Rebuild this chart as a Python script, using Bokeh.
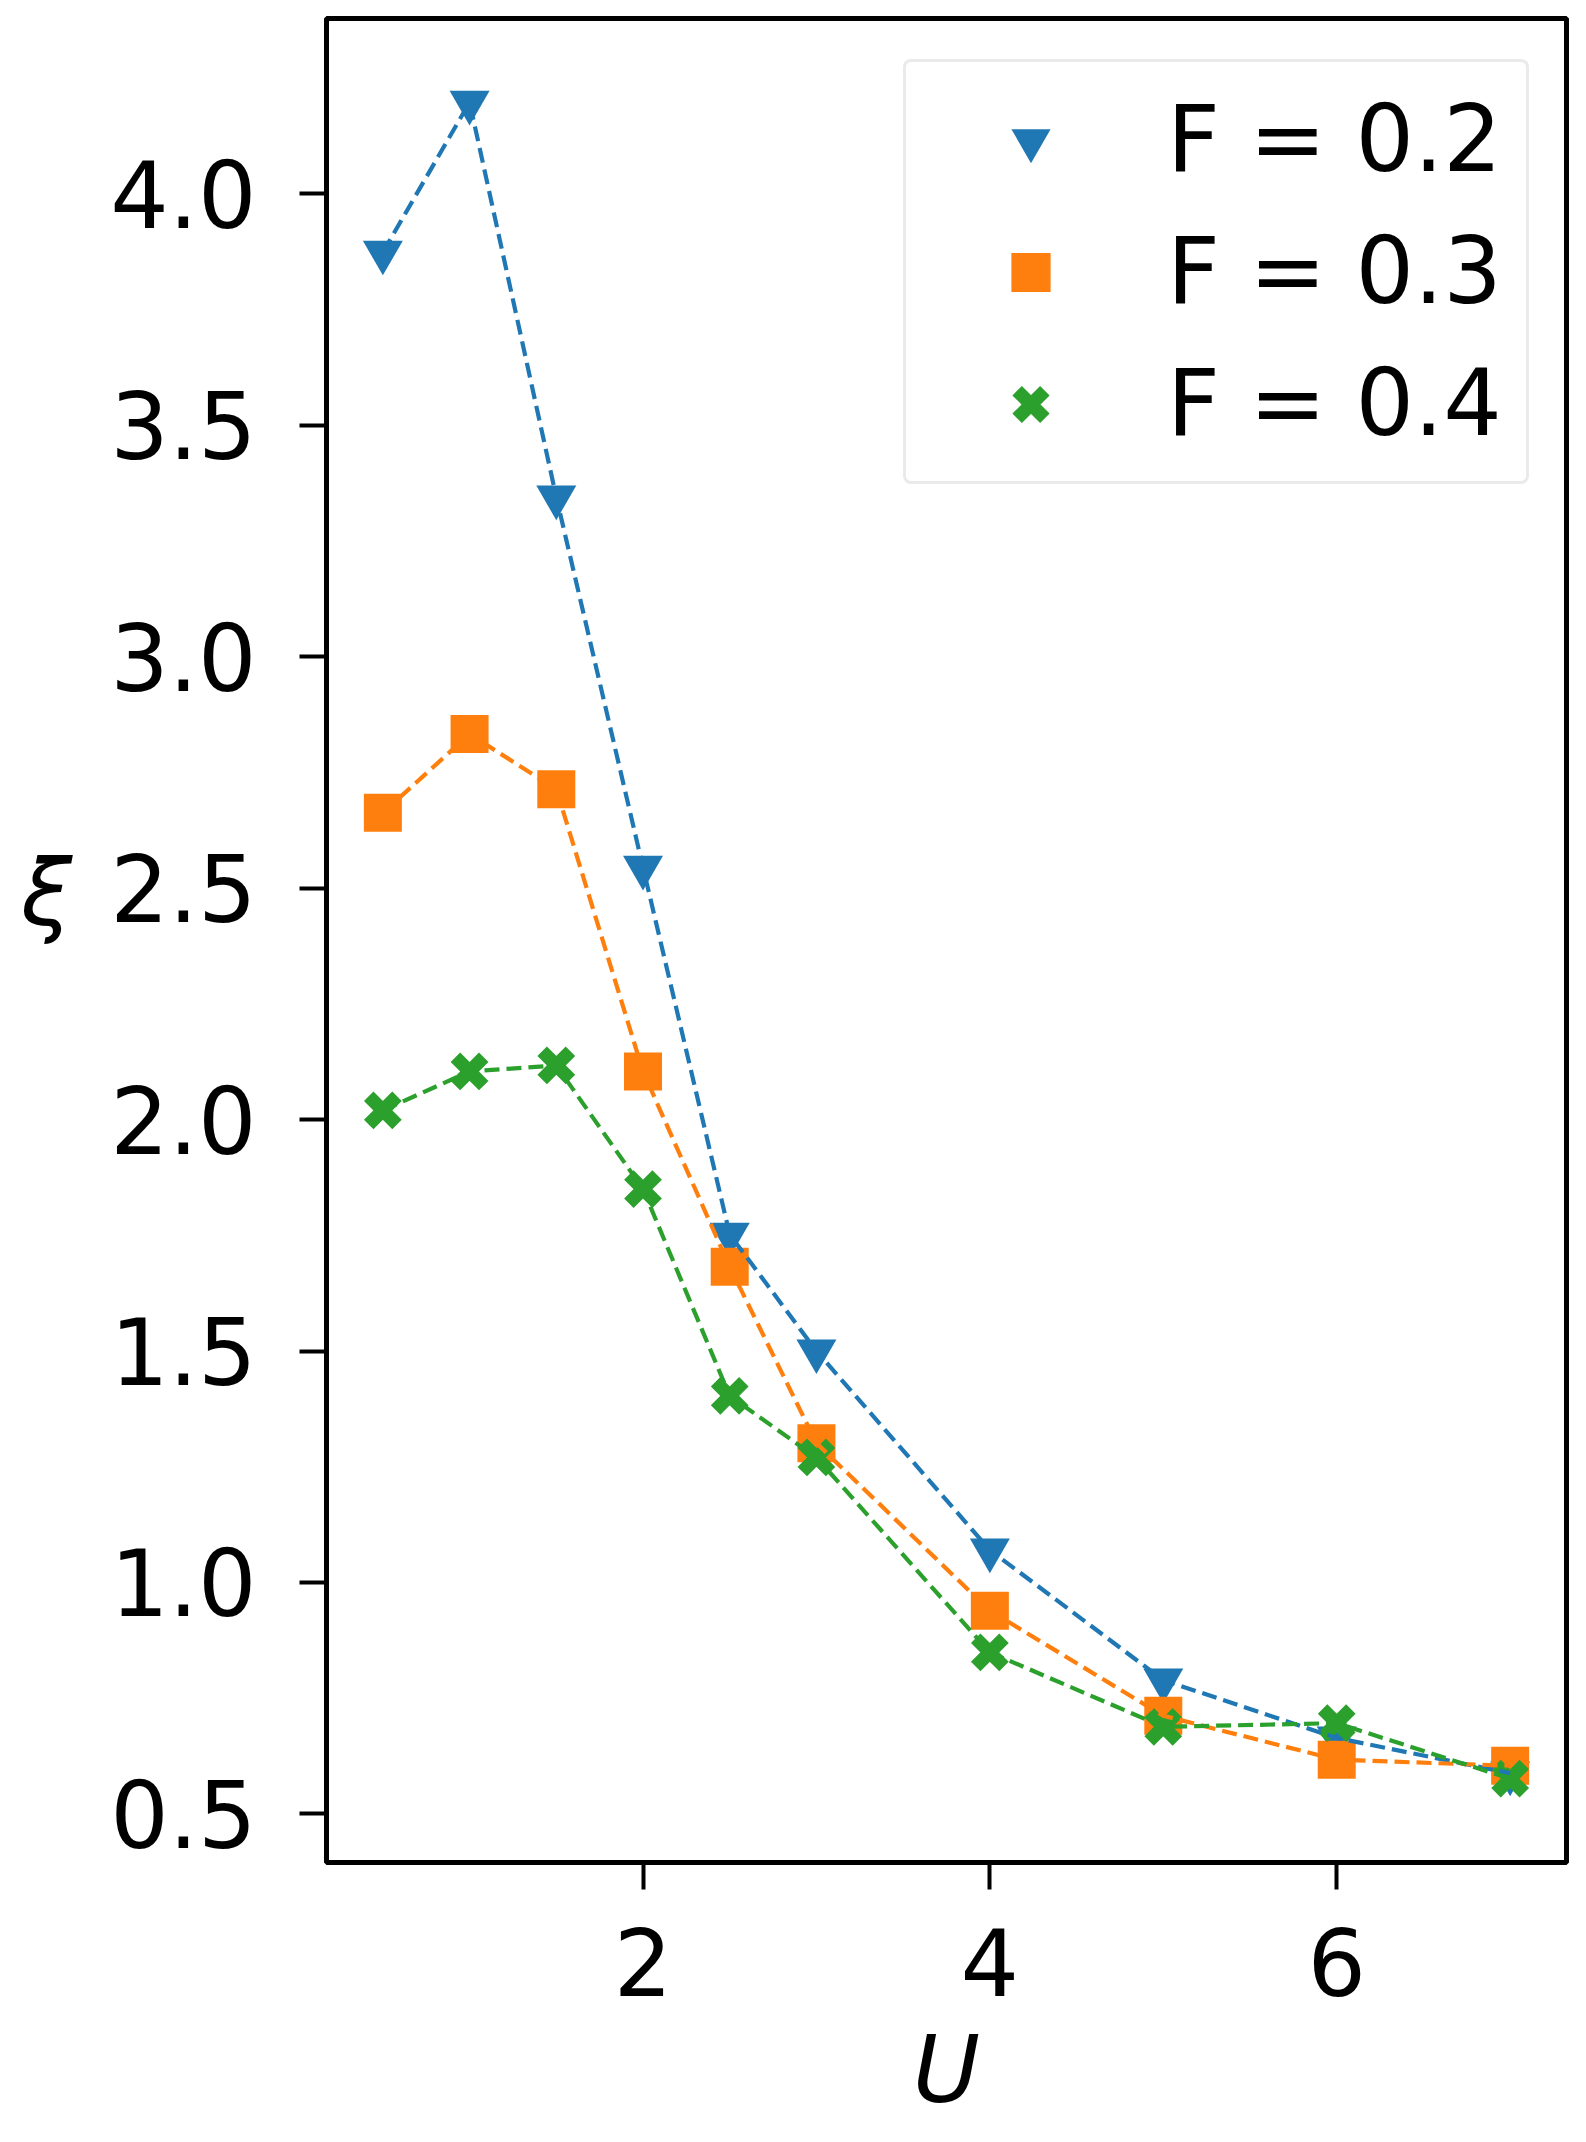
from bokeh.plotting import figure
from bokeh.models import (Range1d, FixedTicker, PrintfTickFormatter, Legend,
                          LegendItem)
from bokeh.embed import file_html
from bokeh.resources import INLINE

# ---------------- data ----------------
U = [0.5, 1.0, 1.5, 2.0, 2.5, 3.0, 4.0, 5.0, 6.0, 7.0]
xi_F02 = [3.874, 4.198, 3.345, 2.545, 1.752, 1.500, 1.070, 0.789, 0.664, 0.588]
xi_F03 = [2.663, 2.833, 2.714, 2.104, 1.682, 1.301, 0.939, 0.712, 0.617, 0.604]
xi_F04 = [2.020, 2.104, 2.117, 1.850, 1.403, 1.270, 0.849, 0.688, 0.696, 0.576]
series_labels = ["F = 0.2", "F = 0.3", "F = 0.4"]
x_ticks = [2, 4, 6]
y_ticks = [0.5, 1.0, 1.5, 2.0, 2.5, 3.0, 3.5, 4.0]
x_label = "U"
y_label = "ξ"

# ---------------- styling ----------------
colors = ["#1f77b4", "#ff7f0e", "#2ca02c"]
FONT = "DejaVu Sans"
FS = "92px"

all_y = xi_F02 + xi_F03 + xi_F04
ypad = 0.05 * (max(all_y) - min(all_y))
xpad = 0.05 * (max(U) - min(U))

p = figure(width=1570, height=2126, output_backend="svg", toolbar_location=None,
           x_range=Range1d(min(U) - xpad, max(U) + xpad),
           y_range=Range1d(min(all_y) - ypad, max(all_y) + ypad),
           min_border_left=326, min_border_right=4,
           min_border_top=18, min_border_bottom=259)

p.background_fill_color = "white"
p.border_fill_color = "white"
p.outline_line_color = "black"
p.outline_line_width = 5
p.xgrid.visible = False
p.ygrid.visible = False

for ax in (p.xaxis[0], p.yaxis[0]):
    ax.axis_line_color = None
    ax.major_tick_line_color = "black"
    ax.major_tick_line_width = 4
    ax.major_tick_out = 27
    ax.major_tick_in = 0
    ax.minor_tick_line_color = None
    ax.major_label_text_font = FONT
    ax.major_label_text_font_size = FS
    ax.major_label_text_color = "black"
    ax.axis_label_text_font = FONT
    ax.axis_label_text_font_size = FS
    ax.axis_label_text_font_style = "italic"
    ax.axis_label_text_color = "black"

p.xaxis[0].ticker = FixedTicker(ticks=x_ticks)
p.yaxis[0].ticker = FixedTicker(ticks=y_ticks)
p.yaxis[0].formatter = PrintfTickFormatter(format="%.1f")
p.xaxis[0].major_label_standoff = 38
p.yaxis[0].major_label_standoff = 43

p.xaxis[0].axis_label = x_label
p.xaxis[0].axis_label_standoff = 18

# the reference's y label sits with its bottom on the axes centre: an empty
# second line lifts the single visible glyph above the centre line
p.yaxis[0].axis_label = y_label + "\n"
p.yaxis[0].axis_label_standoff = 35
p.yaxis[0].axis_label_text_line_height = 0.87
try:
    p.yaxis[0].axis_label_orientation = "horizontal"
except Exception:
    pass

# markers first, then dashed lines on top (as in the reference)
r1 = p.scatter(U, xi_F02, marker="inverted_triangle", size=40,
               fill_color=colors[0], line_color=None)
r2 = p.scatter(U, xi_F03, marker="square", size=38,
               fill_color=colors[1], line_color=None)
r3 = p.scatter(U, xi_F04, marker="x", size=40,
               line_color=colors[2], line_width=13.4, line_cap="butt")

for ys, c in zip([xi_F02, xi_F03, xi_F04], colors):
    p.line(U, ys, line_color=c, line_width=4.2, line_dash="15 7")

legend = Legend(items=[LegendItem(label=series_labels[0], renderers=[r1]),
                       LegendItem(label=series_labels[1], renderers=[r2]),
                       LegendItem(label=series_labels[2], renderers=[r3])],
                location=(577, 1378))
legend.label_text_font = FONT
legend.label_text_font_size = FS
legend.label_text_color = "black"
legend.glyph_width = 201
legend.glyph_height = 98
legend.label_height = 98
legend.spacing = 25
legend.padding = 24
legend.margin = 0
legend.label_standoff = 36
legend.border_line_color = "#d6d6d6"
legend.border_line_width = 3
legend.background_fill_color = "white"
legend.background_fill_alpha = 0.8
try:
    legend.border_radius = 8
except Exception:
    pass
p.add_layout(legend)

open("out.html", "w").write(file_html(p, INLINE, title="xi vs U"))
